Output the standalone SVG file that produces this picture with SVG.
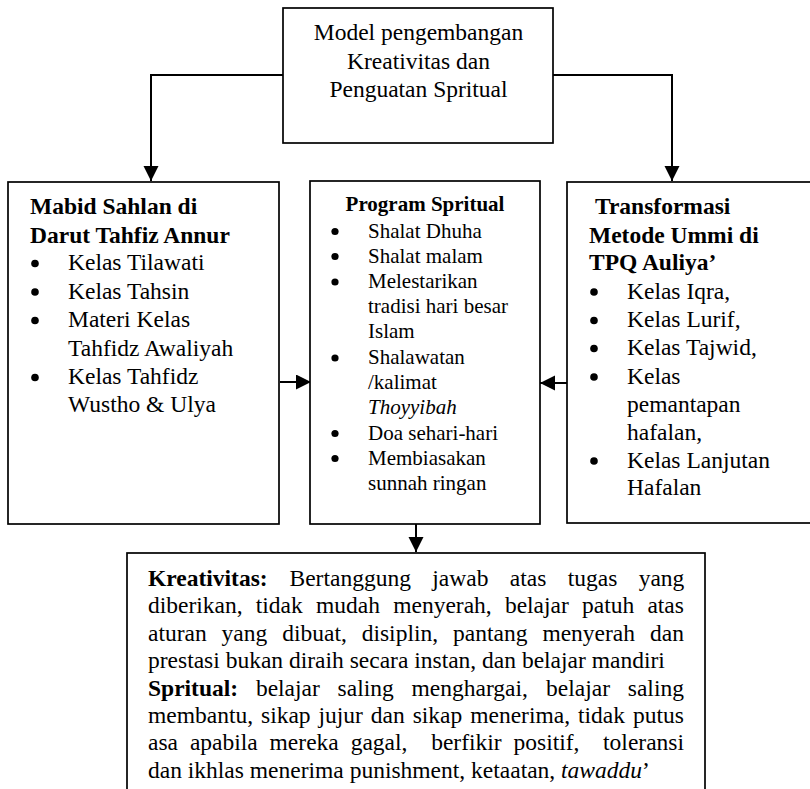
<svg xmlns="http://www.w3.org/2000/svg" width="810" height="789" viewBox="0 0 810 789">
<style>
.box{fill:#fff;stroke:#000;stroke-width:1.7}
.t{font-family:"Liberation Serif","Times New Roman",serif;font-size:23.5px;fill:#000}
.s{font-family:"Liberation Serif","Times New Roman",serif;font-size:21px;fill:#000}
.b{font-weight:bold}
.i{font-style:italic}
.c{fill:none;stroke:#000;stroke-width:2}
.dot{fill:#000}
</style>
<defs>
<marker id="ah" markerUnits="userSpaceOnUse" markerWidth="16" markerHeight="16" refX="15" refY="7.5" orient="auto">
<path d="M0,0 L15,7.5 L0,15 Z" fill="#000"/>
</marker>
</defs>
<rect width="810" height="789" fill="#fff"/>

<g id="connectors">
<polyline class="c" points="283,75 151,75 151,181" marker-end="url(#ah)"/>
<polyline class="c" points="553,75 672,75 672,181" marker-end="url(#ah)"/>
<line class="c" x1="280" y1="382" x2="311" y2="382" marker-end="url(#ah)"/>
<line class="c" x1="567" y1="383" x2="540" y2="383" marker-end="url(#ah)"/>
<line class="c" x1="416" y1="524" x2="416" y2="552" marker-end="url(#ah)"/>
</g>

<g id="node-model">
<rect class="box" x="283" y="8" width="270" height="135"/>
<text class="t" x="418.5" y="40" text-anchor="middle">Model pengembangan</text>
<text class="t" x="418.5" y="68.5" text-anchor="middle">Kreativitas dan</text>
<text class="t" x="418.5" y="97" text-anchor="middle">Penguatan Spritual</text>
</g>

<g id="node-mabid">
<rect class="box" x="8" y="182" width="271" height="342"/>
<text class="t b" x="30" y="214">Mabid Sahlan di</text>
<text class="t b" x="30" y="242.5">Darut Tahfiz Annur</text>
<circle class="dot" cx="35" cy="263.5" r="3.8"/><text class="t" x="68" y="270">Kelas Tilawati</text>
<circle class="dot" cx="35" cy="292" r="3.8"/><text class="t" x="68" y="298.5">Kelas Tahsin</text>
<circle class="dot" cx="35" cy="320.5" r="3.8"/><text class="t" x="68" y="327">Materi Kelas</text>
<text class="t" x="68" y="355.5">Tahfidz Awaliyah</text>
<circle class="dot" cx="35" cy="377.5" r="3.8"/><text class="t" x="68" y="384">Kelas Tahfidz</text>
<text class="t" x="68" y="412">Wustho &amp; Ulya</text>
</g>

<g id="node-program">
<rect class="box" x="310" y="181" width="230" height="343"/>
<text class="s b" x="425" y="211" text-anchor="middle">Program Spritual</text>
<circle class="dot" cx="335" cy="231.5" r="3.6"/><text class="s" x="368" y="237.5">Shalat Dhuha</text>
<circle class="dot" cx="335" cy="256.5" r="3.6"/><text class="s" x="368" y="262.5">Shalat malam</text>
<circle class="dot" cx="335" cy="282" r="3.6"/><text class="s" x="368" y="288">Melestarikan</text>
<text class="s" x="368" y="313">tradisi hari besar</text>
<text class="s" x="368" y="338">Islam</text>
<circle class="dot" cx="335" cy="358" r="3.6"/><text class="s" x="368" y="364">Shalawatan</text>
<text class="s" x="368" y="389">/kalimat</text>
<text class="s i" x="368" y="414">Thoyyibah</text>
<circle class="dot" cx="335" cy="433.5" r="3.6"/><text class="s" x="368" y="439.5">Doa sehari-hari</text>
<circle class="dot" cx="335" cy="458.5" r="3.6"/><text class="s" x="368" y="464.5">Membiasakan</text>
<text class="s" x="368" y="490">sunnah ringan</text>
</g>

<g id="node-transformasi">
<rect class="box" x="567" y="182" width="260" height="341"/>
<text class="t b" x="595" y="214">Transformasi</text>
<text class="t b" x="589" y="242.5">Metode Ummi di</text>
<text class="t b" x="589" y="269.5">TPQ Auliya’</text>
<circle class="dot" cx="594" cy="292" r="3.8"/><text class="t" x="627" y="298.5">Kelas Iqra,</text>
<circle class="dot" cx="594" cy="320.5" r="3.8"/><text class="t" x="627" y="327">Kelas Lurif,</text>
<circle class="dot" cx="594" cy="348.5" r="3.8"/><text class="t" x="627" y="355">Kelas Tajwid,</text>
<circle class="dot" cx="594" cy="377" r="3.8"/><text class="t" x="627" y="383.5">Kelas</text>
<text class="t" x="627" y="411.5">pemantapan</text>
<text class="t" x="627" y="439.5">hafalan,</text>
<circle class="dot" cx="594" cy="461" r="3.8"/><text class="t" x="627" y="467.5">Kelas Lanjutan</text>
<text class="t" x="627" y="495">Hafalan</text>
</g>

<g id="node-hasil">
<rect class="box" x="127" y="553" width="578" height="270"/>
<text class="t" y="586"><tspan class="b" x="148">Kreativitas:</tspan><tspan x="289.5">Bertanggung</tspan><tspan x="432.3">jawab</tspan><tspan x="509.8">atas</tspan><tspan x="567.7">tugas</tspan><tspan x="638.7">yang</tspan></text>
<text class="t" y="613.4"><tspan x="148">diberikan,</tspan><tspan x="255.8">tidak</tspan><tspan x="316">mudah</tspan><tspan x="393.2">menyerah,</tspan><tspan x="504.9">belajar</tspan><tspan x="582">patuh</tspan><tspan x="647.4">atas</tspan></text>
<text class="t" y="640.8"><tspan x="148">aturan</tspan><tspan x="221.6">yang</tspan><tspan x="282.2">dibuat,</tspan><tspan x="361.7">disiplin,</tspan><tspan x="453.1">pantang</tspan><tspan x="542.4">menyerah</tspan><tspan x="650">dan</tspan></text>
<text class="t" x="148" y="668.2">prestasi bukan diraih secara instan, dan belajar mandiri</text>
<text class="t" y="695.6"><tspan class="b" x="148">Spritual:</tspan><tspan x="255.9">belajar</tspan><tspan x="337.6">saling</tspan><tspan x="411.5">menghargai,</tspan><tspan x="546.1">belajar</tspan><tspan x="627.8">saling</tspan></text>
<text class="t" y="723"><tspan x="148">membantu,</tspan><tspan x="261">sikap</tspan><tspan x="318.5">jujur</tspan><tspan x="370.8">dan</tspan><tspan x="412.7">sikap</tspan><tspan x="470.2">menerima,</tspan><tspan x="578">tidak</tspan><tspan x="633">putus</tspan></text>
<text class="t" y="750.4"><tspan x="148">asa</tspan><tspan x="189.9">apabila</tspan><tspan x="269.6">mereka</tspan><tspan x="350.7">gagal,</tspan><tspan x="431.2">berfikir</tspan><tspan x="513.5">positif,</tspan><tspan x="603.1">toleransi</tspan></text>
<text class="t" x="148" y="777.8">dan ikhlas menerima punishment, ketaatan, <tspan class="i">tawaddu</tspan>’</text>
</g>
</svg>
